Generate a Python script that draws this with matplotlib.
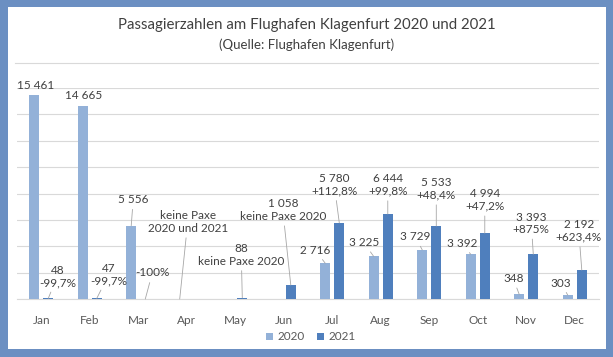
import matplotlib
matplotlib.use("Agg")
import matplotlib.pyplot as plt
from matplotlib.patches import Rectangle
from matplotlib.lines import Line2D
import numpy as np

plt.rcParams['font.family'] = ['Lato', 'DejaVu Sans']

# ---- data ----
months = ["Jan", "Feb", "Mar", "Apr", "May", "Jun", "Jul", "Aug", "Sep", "Oct", "Nov", "Dec"]
pax_2020 = [15461, 14665, 5556, 0, 0, 0, 2716, 3225, 3729, 3392, 348, 303]
pax_2021 = [48, 47, 0, 0, 88, 1058, 5780, 6444, 5533, 4994, 3393, 2192]
labels_2020 = ["15 461", "14 665", "5 556", "keine Paxe\n2020 und 2021", "", "",
               "2 716", "3 225", "3 729", "3 392", "348", "303"]
labels_2021 = ["48\n-99,7%", "47\n-99,7%", "-100%", "", "88\nkeine Paxe 2020",
               "1 058\nkeine Paxe 2020", "5 780\n+112,8%", "6 444\n+99,8%",
               "5 533\n+48,4%", "4 994\n+47,2%", "3 393\n+875%", "2 192\n+623,4%"]
series_names = ["2020", "2021"]
title = "Passagierzahlen am Flughafen Klagenfurt 2020 und 2021"
subtitle = "(Quelle: Flughafen Klagenfurt)"

# ---- label placement (pixel offsets from bar top) ----
off_2020 = [(1, 10), (1, 10), (2, 26), (8, 77), (0, 0), (0, 0),
            (-10, 13), (-10, 14), (-7, 13), (-9, 11), (-6, 16), (-7, 12)]
lead_2020 = [False, False, True, True, False, False, True, True, True, True, True, True]
off_2021 = [(9, 22), (12, 24), (7, 26), (0, 0), (-1, 43), (-8, 75),
            (-5, 38), (0, 29), (0, 37), (0, 33), (-2, 31), (-3, 39)]
lead_2021 = [True, True, True, False, True, True, True, True, True, True, True, True]

C20 = "#93b1d8"
C21 = "#4f7fbd"
BORDER = "#6b8fc2"
TXT = "#404040"
GRID = "#d9d9d9"

W, H = 613, 357
fig = plt.figure(figsize=(W / 100, H / 100), dpi=100, facecolor=BORDER)
fig.patches.append(Rectangle((8 / W, 8 / H), 598 / W, 342 / H, transform=fig.transFigure,
                             facecolor="white", edgecolor="none", zorder=-5))
fig.lines.append(Line2D([15 / W, 598 / W], [1 - 63 / H, 1 - 63 / H], transform=fig.transFigure,
                        color=GRID, lw=0.8))
fig.text(307 / W, 1 - 25 / H, title, ha="center", va="center", fontsize=10.8, color=TXT)
fig.text(307 / W, 1 - 45 / H, subtitle, ha="center", va="center", fontsize=9.5, color=TXT)

ax = fig.add_axes([17 / W, 1 - 299 / H, 582 / W, 211 / H])
ax.set_zorder(2)
ax.patch.set_visible(False)
x = np.arange(len(months))
bw = 0.21
off = 0.145
b20 = ax.bar(x - off, pax_2020, bw, color=C20, label=series_names[0], zorder=3)
b21 = ax.bar(x + off, pax_2021, bw, color=C21, label=series_names[1], zorder=3)

ax.set_xlim(-0.5, len(months) - 0.5)
ax.set_ylim(0, 16000)
ax.set_yticks(np.arange(0, 16001, 2000))
ax.yaxis.grid(True, color=GRID, lw=0.8, zorder=0)
ax.set_axisbelow(True)
ax.tick_params(axis="y", left=False, labelleft=False)
ax.tick_params(axis="x", bottom=False, labelsize=8.5, labelcolor="#595959", pad=8)
ax.set_xticks(x)
ax.set_xticklabels(months)
for s in ["top", "left", "right"]:
    ax.spines[s].set_visible(False)
ax.spines["bottom"].set_color(GRID)
ax.spines["bottom"].set_linewidth(0.8)


def put_labels(xs, vals, labs, offs, leads):
    for xi, v, lab, (dx, dy), ld in zip(xs, vals, labs, offs, leads):
        if not lab:
            continue
        ap = dict(arrowstyle="-", color="#a6a6a6", lw=0.6, shrinkA=1, shrinkB=0) if ld else None
        ax.annotate(lab, xy=(xi, v), xytext=(dx, dy), textcoords="offset pixels",
                    ha="center", va="center", fontsize=8.5, color=TXT, linespacing=1.15,
                    arrowprops=ap, annotation_clip=False, zorder=5)


put_labels(x - off, pax_2020, labels_2020, off_2020, lead_2020)
put_labels(x + off, pax_2021, labels_2021, off_2021, lead_2021)

fig.legend(handles=[b20, b21], labels=series_names, loc="center",
           bbox_to_anchor=(311 / W, 1 - 337 / H), ncol=2, frameon=False,
           fontsize=8.5, handlelength=0.6, handleheight=0.6, handletextpad=0.4,
           columnspacing=1.0, labelcolor="#595959")

fig.savefig("out.png", dpi=100, facecolor=BORDER)
